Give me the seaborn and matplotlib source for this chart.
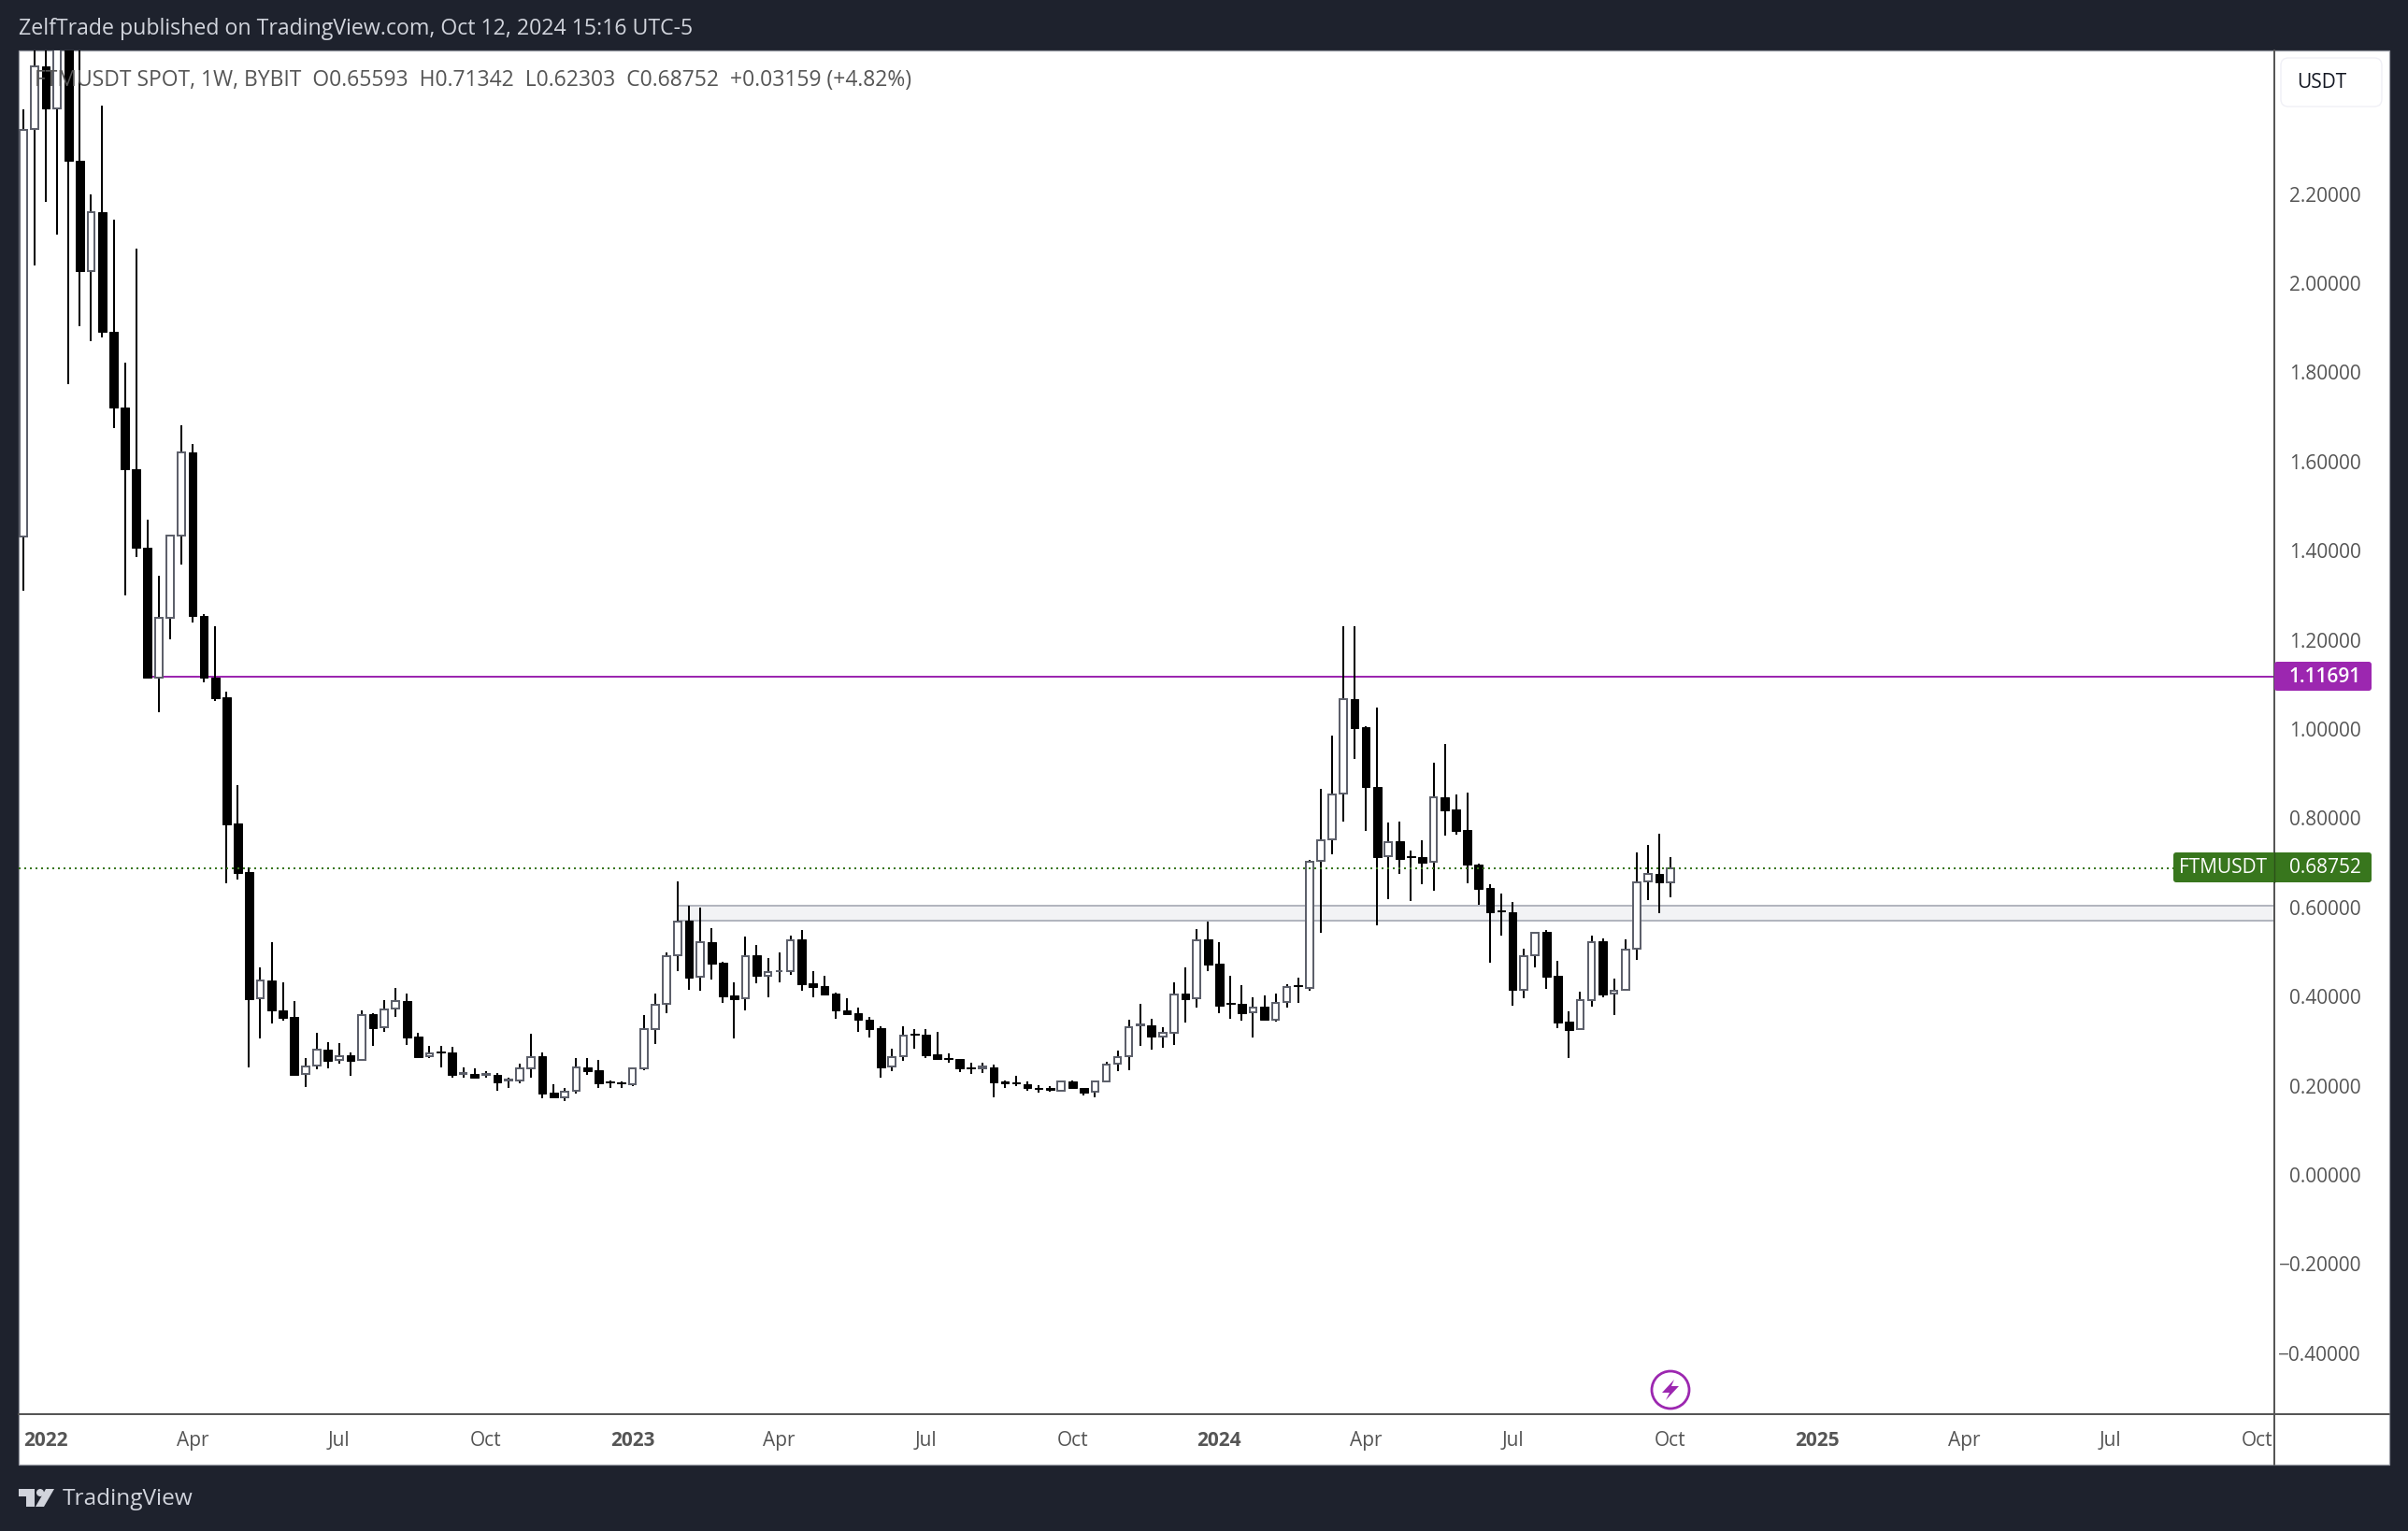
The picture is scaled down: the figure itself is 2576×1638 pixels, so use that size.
import numpy as np
import pandas as pd
import matplotlib
matplotlib.use("Agg")
import matplotlib.pyplot as plt
import seaborn as sns
from matplotlib.patches import FancyBboxPatch, Rectangle, Polygon, Ellipse

# Weekly candles
opens = [1.432, 2.346, 2.486, 2.391, 2.600, 2.274, 2.027, 2.159, 1.890, 1.722,
         1.582, 1.407, 1.116, 1.250, 1.435, 1.621, 1.254, 1.116, 1.071, 0.788,
         0.679, 0.396, 0.437, 0.370, 0.354, 0.226, 0.245, 0.280, 0.258, 0.268,
         0.258, 0.360, 0.331, 0.373, 0.389, 0.310, 0.266, 0.276, 0.274, 0.226,
         0.226, 0.224, 0.224, 0.211, 0.212, 0.239, 0.266, 0.184, 0.173, 0.188,
         0.242, 0.234, 0.210, 0.207, 0.203, 0.238, 0.326, 0.383, 0.492, 0.570,
         0.444, 0.523, 0.476, 0.403, 0.396, 0.493, 0.447, 0.456, 0.456, 0.528,
         0.430, 0.423, 0.407, 0.370, 0.362, 0.349, 0.329, 0.243, 0.266, 0.316,
         0.314, 0.270, 0.263, 0.259, 0.242, 0.240, 0.241, 0.210, 0.207, 0.203,
         0.195, 0.194, 0.188, 0.210, 0.194, 0.186, 0.210, 0.249, 0.266, 0.335,
         0.335, 0.311, 0.318, 0.407, 0.396, 0.528, 0.474, 0.385, 0.384, 0.364,
         0.377, 0.349, 0.387, 0.425, 0.419, 0.704, 0.752, 0.855, 1.068, 1.004,
         0.869, 0.714, 0.748, 0.714, 0.712, 0.702, 0.846, 0.819, 0.773, 0.697,
         0.643, 0.593, 0.590, 0.416, 0.493, 0.545, 0.447, 0.343, 0.326, 0.392,
         0.524, 0.406, 0.415, 0.507, 0.658, 0.676, 0.65593]
highs = [2.389, 2.700, 2.700, 2.700, 2.700, 2.700, 2.199, 2.398, 2.143, 1.822,
         2.077, 1.469, 1.344, 1.435, 1.681, 1.640, 1.258, 1.231, 1.084, 0.874,
         0.689, 0.465, 0.523, 0.432, 0.389, 0.262, 0.319, 0.298, 0.296, 0.274,
         0.369, 0.362, 0.391, 0.419, 0.406, 0.318, 0.289, 0.289, 0.287, 0.242,
         0.238, 0.233, 0.228, 0.217, 0.249, 0.317, 0.274, 0.203, 0.196, 0.263,
         0.263, 0.257, 0.211, 0.209, 0.238, 0.358, 0.406, 0.498, 0.658, 0.604,
         0.600, 0.553, 0.477, 0.432, 0.535, 0.516, 0.486, 0.500, 0.537, 0.549,
         0.457, 0.446, 0.408, 0.396, 0.375, 0.354, 0.333, 0.282, 0.333, 0.328,
         0.327, 0.321, 0.272, 0.260, 0.252, 0.252, 0.247, 0.212, 0.222, 0.209,
         0.201, 0.199, 0.212, 0.212, 0.194, 0.212, 0.254, 0.279, 0.348, 0.384,
         0.350, 0.331, 0.432, 0.465, 0.551, 0.568, 0.522, 0.447, 0.426, 0.398,
         0.403, 0.407, 0.428, 0.442, 0.706, 0.866, 0.985, 1.231, 1.231, 1.006,
         1.048, 0.790, 0.792, 0.727, 0.751, 0.925, 0.966, 0.853, 0.857, 0.699,
         0.652, 0.631, 0.612, 0.507, 0.546, 0.549, 0.480, 0.367, 0.411, 0.537,
         0.530, 0.440, 0.528, 0.723, 0.740, 0.765, 0.71342]
lows = [1.311, 2.040, 2.182, 2.110, 1.774, 1.903, 1.869, 1.879, 1.676, 1.299,
        1.385, 1.114, 1.037, 1.202, 1.368, 1.238, 1.104, 1.062, 0.654, 0.662,
        0.242, 0.306, 0.340, 0.345, 0.224, 0.198, 0.237, 0.240, 0.250, 0.223,
        0.258, 0.289, 0.321, 0.355, 0.292, 0.265, 0.263, 0.242, 0.219, 0.219,
        0.219, 0.219, 0.189, 0.196, 0.206, 0.219, 0.171, 0.173, 0.166, 0.182,
        0.224, 0.196, 0.194, 0.196, 0.200, 0.235, 0.294, 0.363, 0.456, 0.416,
        0.414, 0.439, 0.386, 0.307, 0.370, 0.430, 0.399, 0.432, 0.449, 0.414,
        0.399, 0.402, 0.350, 0.358, 0.321, 0.308, 0.217, 0.233, 0.256, 0.282,
        0.262, 0.261, 0.252, 0.231, 0.227, 0.229, 0.175, 0.196, 0.200, 0.189,
        0.185, 0.187, 0.188, 0.194, 0.178, 0.175, 0.210, 0.233, 0.235, 0.289,
        0.280, 0.285, 0.292, 0.342, 0.375, 0.457, 0.363, 0.350, 0.346, 0.308,
        0.346, 0.344, 0.375, 0.386, 0.414, 0.542, 0.720, 0.793, 0.933, 0.772,
        0.560, 0.618, 0.675, 0.615, 0.653, 0.638, 0.761, 0.764, 0.654, 0.606,
        0.476, 0.537, 0.379, 0.396, 0.465, 0.417, 0.329, 0.262, 0.326, 0.377,
        0.398, 0.358, 0.415, 0.482, 0.616, 0.587, 0.62303]
closes = [2.344, 2.486, 2.391, 2.600, 2.274, 2.027, 2.159, 1.890, 1.722, 1.582,
          1.407, 1.116, 1.250, 1.435, 1.621, 1.254, 1.116, 1.070, 0.786, 0.678,
          0.395, 0.437, 0.370, 0.353, 0.224, 0.244, 0.280, 0.256, 0.267, 0.256,
          0.359, 0.330, 0.372, 0.389, 0.308, 0.265, 0.273, 0.274, 0.224, 0.228,
          0.219, 0.226, 0.208, 0.213, 0.238, 0.265, 0.183, 0.173, 0.187, 0.242,
          0.233, 0.206, 0.208, 0.205, 0.238, 0.326, 0.382, 0.491, 0.569, 0.443,
          0.523, 0.474, 0.401, 0.395, 0.491, 0.447, 0.455, 0.458, 0.527, 0.428,
          0.422, 0.405, 0.370, 0.361, 0.349, 0.328, 0.242, 0.264, 0.313, 0.314,
          0.269, 0.261, 0.261, 0.240, 0.240, 0.243, 0.208, 0.205, 0.205, 0.194,
          0.193, 0.191, 0.209, 0.194, 0.185, 0.209, 0.248, 0.265, 0.332, 0.337,
          0.310, 0.318, 0.405, 0.395, 0.527, 0.472, 0.379, 0.383, 0.363, 0.376,
          0.348, 0.386, 0.422, 0.423, 0.703, 0.751, 0.854, 1.068, 1.003, 0.869,
          0.713, 0.747, 0.709, 0.712, 0.701, 0.846, 0.818, 0.772, 0.696, 0.642,
          0.590, 0.591, 0.416, 0.491, 0.544, 0.444, 0.342, 0.325, 0.391, 0.523,
          0.405, 0.414, 0.506, 0.657, 0.676, 0.657, 0.68752]

price_ticks = [2.2, 2.0, 1.8, 1.6, 1.4, 1.2, 1.0, 0.8, 0.6, 0.4, 0.2, 0.0, -0.2, -0.4]
time_ticks = [2, 15, 28, 41, 54, 67, 80, 93, 106, 119, 132, 146, 159, 172, 185, 198]
time_labels = ["2022", "Apr", "Jul", "Oct", "2023", "Apr", "Jul", "Oct",
               "2024", "Apr", "Jul", "Oct", "2025", "Apr", "Jul", "Oct"]

resistance = 1.11691
last_close = 0.68752
zone_top, zone_bottom = 0.604, 0.570
resistance_start = 11
zone_start = 58

W, H = 2576, 1638
DARK = "#1e222d"
AXIS = "#555555"
PURPLE = "#9c27b0"
GREEN = "#38761d"
EDGE = "#5d606b"

sns.set_theme(style="white", rc={"font.family": "Open Sans"})

df = pd.DataFrame({"week": np.arange(len(opens)), "open": opens, "high": highs,
                   "low": lows, "close": closes})
df["base"] = df[["open", "close"]].min(axis=1)
df["body"] = (df["close"] - df["open"]).abs()
up = df[df["close"] >= df["open"]]
down = df[df["close"] < df["open"]]
wicks = df.melt(id_vars="week", value_vars=["high", "low"], value_name="price")

fig = plt.figure(figsize=(W / 100, H / 100), dpi=100, facecolor=DARK)

# pixel canvas behind and above the chart, for the TradingView frame
back = fig.add_axes([0, 0, 1, 1], zorder=0)
back.set_xlim(0, W)
back.set_ylim(H, 0)
back.axis("off")
back.add_patch(Rectangle((20, 54), 2536, 1513, facecolor="white", edgecolor="#9598a1", lw=0.9))

ax = fig.add_axes([20 / W, 1 - 1513 / H, 2413 / W, 1459 / H], zorder=1)
ax.patch.set_alpha(0)

ax.axhspan(zone_bottom, zone_top, xmin=(zone_start + 0.414) / 199.944, facecolor="#f2f3f5",
           edgecolor="#b2b5be", lw=1.44, zorder=1)
ax.hlines(resistance, resistance_start, 199.6, color=PURPLE, lw=1.44, zorder=1.5)

sns.lineplot(data=wicks, x="week", y="price", units="week", estimator=None, color="black",
             lw=1.44, solid_capstyle="butt", legend=False, ax=ax, zorder=2)
sns.barplot(data=up, x="week", y="body", bottom=up["base"], native_scale=True, width=0.63,
            color="white", saturation=1, edgecolor=EDGE, linewidth=1.44, errorbar=None,
            ax=ax, zorder=3)
sns.barplot(data=down, x="week", y="body", bottom=down["base"], native_scale=True, width=0.72,
            color="black", saturation=1, edgecolor="black", linewidth=0.72, errorbar=None,
            ax=ax, zorder=3)

ax.axhline(last_close, color=GREEN, lw=1.44, ls=(0, (1, 2)), dash_capstyle="butt", zorder=4)

ax.set_xlim(-0.414, 199.53)
ax.set_ylim((1257 - 1513) / 477, (1257 - 54) / 477)
ax.set_xlabel("")
ax.set_ylabel("")

ax.yaxis.tick_right()
ax.set_yticks(price_ticks)
ax.set_yticklabels([f"{v:.5f}".replace("-", "\u2212") for v in price_ticks], ha="right")
ax.tick_params(axis="y", length=0, pad=67, labelsize=15, labelcolor="#555555")
ax.set_xticks(time_ticks)
ax.set_xticklabels(time_labels)
ax.tick_params(axis="x", length=0, pad=13, labelsize=15, labelcolor="#555555")
for lab in ax.get_xticklabels():
    if lab.get_text().startswith("20"):
        lab.set_fontweight("bold")

for side in ["top", "left"]:
    ax.spines[side].set_visible(False)
for side in ["right", "bottom"]:
    ax.spines[side].set_color(AXIS)
    ax.spines[side].set_linewidth(1.44)

# overlay for header, price tags, footer
top = fig.add_axes([0, 0, 1, 1], zorder=2)
top.set_xlim(0, W)
top.set_ylim(H, 0)
top.axis("off")
top.patch.set_alpha(0)

top.plot([2433, 2433], [1513, 1567], color=AXIS, lw=1.44)
top.plot([2433, 2556], [1513, 1513], color=AXIS, lw=1.44)

top.text(20, 31, "ZelfTrade published on TradingView.com, Oct 12, 2024 15:16 UTC-5",
         color="#d1d4dc", fontsize=16.7, va="center", ha="left")
top.text(37, 86, "FTMUSDT SPOT, 1W, BYBIT  O0.65593  H0.71342  L0.62303  C0.68752  +0.03159 (+4.82%)",
         color="#555555", fontsize=16.5, va="center", ha="left")

top.add_patch(FancyBboxPatch((2445, 67), 98, 42, boxstyle="round,pad=5,rounding_size=8",
                             facecolor="white", edgecolor="#f0f0f6", lw=1))
top.text(2484, 89, "USDT", color="#131722", fontsize=15, va="center", ha="center")

top.add_patch(FancyBboxPatch((2436, 711), 98, 25, boxstyle="round,pad=3,rounding_size=3",
                             facecolor=PURPLE, edgecolor="none"))
top.text(2487, 724, f"{resistance:.5f}", color="white", fontsize=15, va="center", ha="center",
         fontweight="semibold")

top.add_patch(FancyBboxPatch((2328, 915), 206, 26, boxstyle="round,pad=3,rounding_size=3",
                             facecolor=GREEN, edgecolor="none"))
top.plot([2433, 2433], [912, 944], color="#2c4f1a", lw=1)
top.text(2378, 928, "FTMUSDT", color="white", fontsize=15, va="center", ha="center")
top.text(2487, 928, f"{last_close:.5f}", color="white", fontsize=15, va="center", ha="center")

# lightning mark on the last bar
top.add_patch(Ellipse((1787, 1487), 40, 40, facecolor="white", edgecolor=PURPLE, lw=2))
top.add_patch(Polygon([(1791, 1476), (1778, 1490), (1786, 1490), (1782, 1498),
                       (1796, 1483), (1788, 1483)], closed=True, facecolor=PURPLE,
                      edgecolor="none"))

# TradingView logo
top.add_patch(Polygon([(20, 1593), (37, 1593), (37, 1612), (28, 1612), (28, 1601), (20, 1601)],
                      closed=True, facecolor="#d1d4dc", edgecolor="none"))
top.add_patch(Ellipse((43, 1597), 8, 8, facecolor="#d1d4dc", edgecolor="none"))
top.add_patch(Polygon([(49, 1593), (58, 1593), (47, 1612), (38, 1612)], closed=True,
                      facecolor="#d1d4dc", edgecolor="none"))
top.text(67, 1604, "TradingView", color="#d1d4dc", fontsize=17.6, va="center", ha="left")

fig.savefig("out.png", dpi=100, facecolor=DARK)
